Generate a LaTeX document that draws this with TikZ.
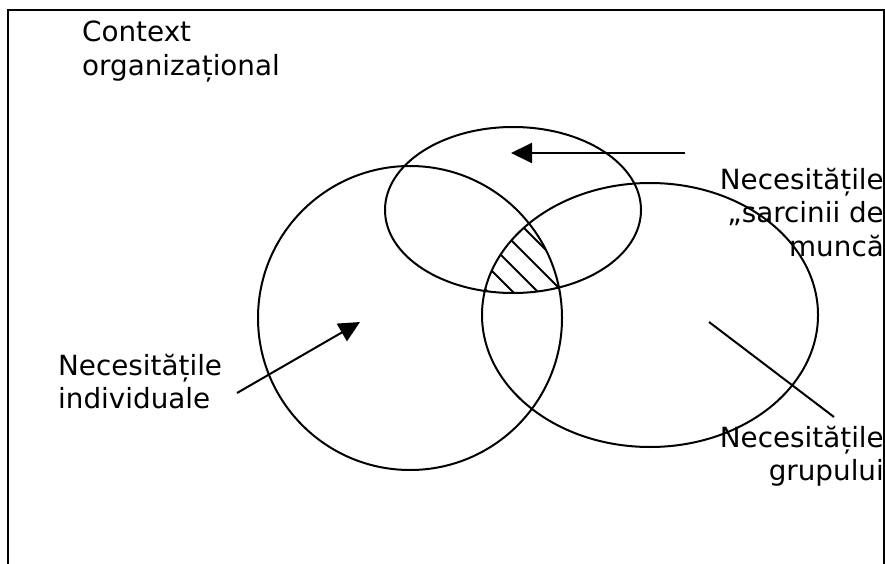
\documentclass[tikz,border=0pt]{standalone}
\usepackage{fontspec}
\setmainfont{DejaVu Sans}
\usetikzlibrary{arrows.meta}
\begin{document}
\begin{tikzpicture}[x=1pt,y=-1pt,
  frame/.style={line width=2pt},
  ring/.style={draw, line width=2pt},
  hatch/.style={line width=1.8pt},
  caption/.style={inner sep=0pt, font=\fontsize{27.8}{33.5}\selectfont},
  pointer/.style={line width=2pt, -{Triangle[length=21pt,width=20pt]}},
  leader/.style={line width=2pt}]
\useasboundingbox (0,0) rectangle (885,564);

% outer frame (open at the bottom)
\draw[frame] (8,564) -- (8,10) -- (884,10) -- (884,564);

% hatched common area of the three sets
\begin{scope}
  \clip (513,210) ellipse [x radius=128pt, y radius=83pt];
  \clip (410,318) circle [radius=152pt];
  \clip (650,315) ellipse [x radius=168pt, y radius=132pt];
  \foreach \c in {146,171,...,321}
    \draw[hatch] (\c+150,150) -- (\c+350,350);
\end{scope}

% the three sets
\draw[ring] (513,210) ellipse [x radius=128pt, y radius=83pt];
\draw[ring] (410,318) circle [radius=152pt];
\draw[ring] (650,315) ellipse [x radius=168pt, y radius=132pt];

% labels
\node[caption, align=left, anchor=north west] (ctx) at (82,21)
  {Context\\organizațional};
\node[caption, align=right, anchor=north east] (task) at (884,168)
  {Necesitățile\\„sarcinii de\\muncă};
\node[caption, align=left, anchor=north west] (indiv) at (58,354)
  {Necesitățile\\individuale};
\node[caption, align=right, anchor=north east] (group) at (884,426)
  {Necesitățile\\grupului};

% pointers
\coordinate (taskTail) at (685,153);
\coordinate (taskTip) at (511,153);
\coordinate (indivTail) at (237,393);
\coordinate (indivTip) at (360,322);
\coordinate (groupA) at (709,322);
\coordinate (groupB) at (834,417);
\draw[pointer] (taskTail) -- (taskTip);
\draw[pointer] (indivTail) -- (indivTip);
\draw[leader] (groupA) -- (groupB);
\end{tikzpicture}
\end{document}
